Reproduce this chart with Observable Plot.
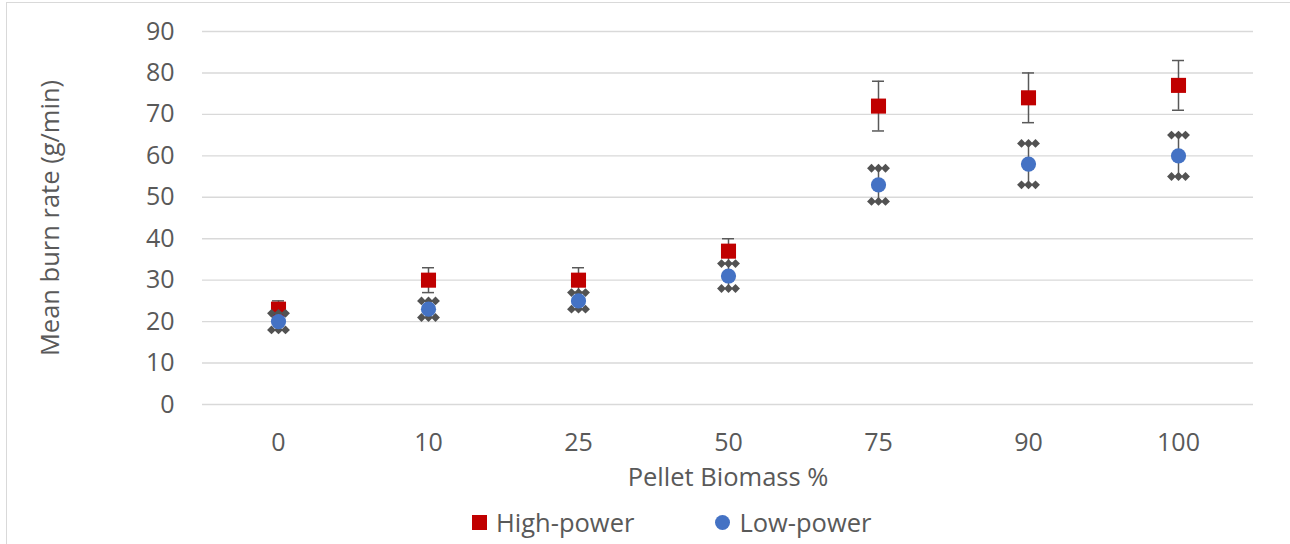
<!DOCTYPE html>
<html>
<head>
<meta charset="utf-8">
<script src="https://cdn.jsdelivr.net/npm/d3@7"></script>
<script src="https://cdn.jsdelivr.net/npm/@observablehq/plot@0.6"></script>
<style>
  html, body { margin: 0; padding: 0; background: #fff; }
  body { width: 1290px; height: 544px; position: relative; overflow: hidden; font-family: "Open Sans", sans-serif; color: #595959; }
  #frame { position: absolute; left: 6px; top: 2px; width: 1300px; height: 560px; border-top: 1.5px solid #d9d9d9; border-left: 1.5px solid #d9d9d9; }
  #chart { position: absolute; left: 0; top: 0; }
  #legend { position: absolute; left: 472px; top: 505px; height: 34px; display: flex; align-items: center; font-size: 25.5px; color: #595959; }
  #legend .item { display: flex; align-items: center; }
  #legend .sw { width: 15px; height: 15px; margin-right: 9px; }
  #legend .sq { background: #c00000; }
  #legend .ci { background: #4472c4; border-radius: 50%; }
</style>
</head>
<body>
<div id="frame"></div>
<div id="chart"></div>
<div id="legend">
  <div class="item"><span class="sw sq"></span><span>High-power</span></div>
  <div class="item" style="margin-left:81px"><span class="sw ci"></span><span>Low-power</span></div>
</div>
<script>
// Pellet biomass share (%) on the x axis
const biomass = ["0", "10", "25", "50", "75", "90", "100"];
// Mean burn rate (g/min) and error-bar half widths
const highMean = [23, 30, 30, 37, 72, 74, 77];
const highErr  = [2, 3, 3, 3, 6, 6, 6];
const lowMean  = [20, 23, 25, 31, 53, 58, 60];
const lowErr   = [2, 2, 2, 3, 4, 5, 5];
const yTicks = [0, 10, 20, 30, 40, 50, 60, 70, 80, 90];

const high = biomass.map((b, i) => ({b, v: highMean[i], lo: highMean[i] - highErr[i], hi: highMean[i] + highErr[i]}));
const low  = biomass.map((b, i) => ({b, v: lowMean[i],  lo: lowMean[i] - lowErr[i],  hi: lowMean[i] + lowErr[i]}));
const caps = low.flatMap(d => [{b: d.b, y: d.lo}, {b: d.b, y: d.hi}]);

const ink = "#595959";
const barInk = "#595959";

const chart = Plot.plot({
  width: 1290,
  height: 500,
  marginLeft: 202,
  marginRight: 37,
  marginTop: 31,
  marginBottom: 96,
  style: {fontFamily: "Open Sans, sans-serif", color: ink, background: "transparent"},
  x: {type: "band", domain: biomass, padding: 0},
  y: {domain: [0, 90]},
  marks: [
    Plot.gridY(yTicks, {stroke: "#d9d9d9", strokeOpacity: 1, strokeWidth: 1.4}),
    Plot.axisY(yTicks, {tickSize: 0, tickPadding: 28, fontSize: 25, label: null, fill: ink}),
    Plot.axisX({tickSize: 0, tickPadding: 29, fontSize: 25, label: null, fill: ink}),
    Plot.text(["Pellet Biomass %"], {frameAnchor: "bottom", dy: 81, fontSize: 25.5, fill: ink, text: d => d}),
    Plot.text(["Mean burn rate (g/min)"], {frameAnchor: "left", dx: -152, rotate: -90, textAnchor: "middle", fontSize: 25.5, fill: ink, text: d => d}),
    // High-power: error bars with flat caps, then square markers
    Plot.ruleX(high, {x: "b", y1: "lo", y2: "hi", stroke: barInk, strokeWidth: 1.5}),
    Plot.tickY(high, {x: "b", y: "lo", stroke: barInk, strokeWidth: 1.5, insetLeft: 69, insetRight: 69}),
    Plot.tickY(high, {x: "b", y: "hi", stroke: barInk, strokeWidth: 1.5, insetLeft: 69, insetRight: 69}),
    Plot.dot(high, {x: "b", y: "v", symbol: "square", r: 8.5, fill: "#c00000", stroke: null}),
    // Low-power: error bars capped by a row of diamonds, then circle markers
    Plot.ruleX(low, {x: "b", y1: "lo", y2: "hi", stroke: barInk, strokeWidth: 1.5}),
    ...[-7, 0, 7].map(dx => Plot.dot(caps, {x: "b", y: "y", dx, symbol: "diamond2", r: 4, fill: "#525252", stroke: null})),
    Plot.dot(low, {x: "b", y: "v", symbol: "circle", r: 7.6, fill: "#4472c4", stroke: null})
  ]
});
document.getElementById("chart").appendChild(chart);
</script>
</body>
</html>
